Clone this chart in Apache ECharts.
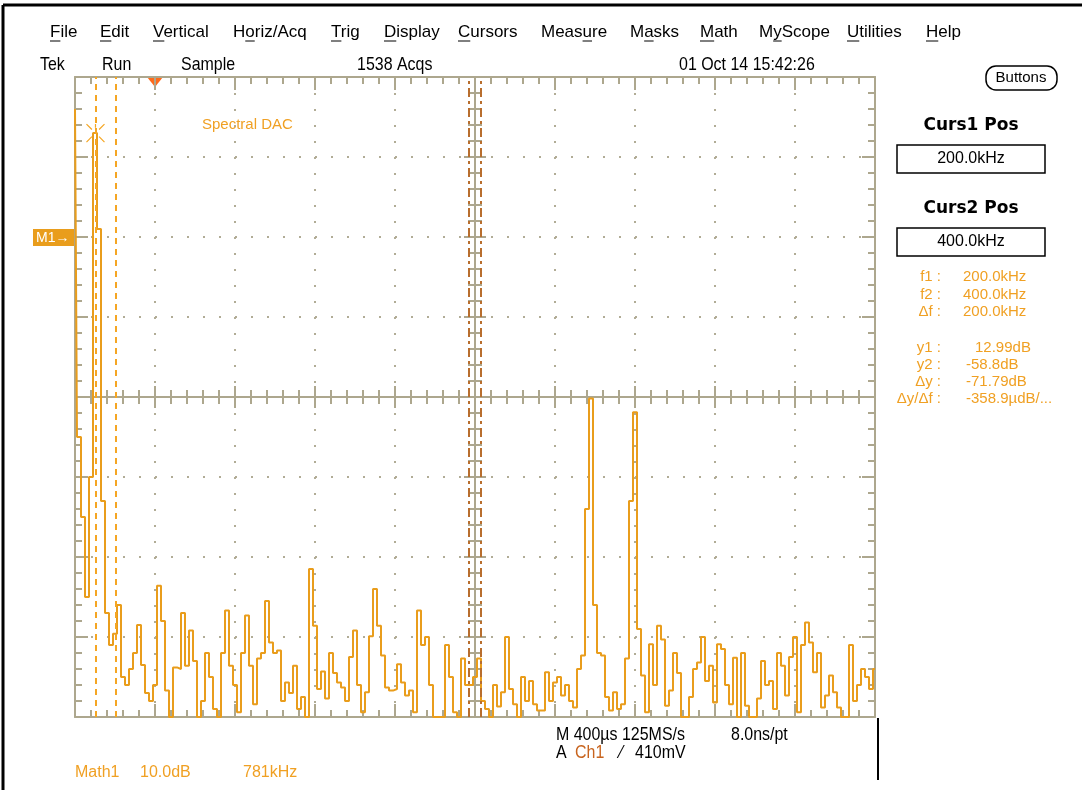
<!DOCTYPE html>
<html>
<head>
<meta charset="utf-8">
<script src="https://cdn.jsdelivr.net/npm/echarts@6/dist/echarts.min.js"></script>
<style>
html, body { margin: 0; padding: 0; background: #fff; }
#chart { width: 1082px; height: 790px; }
</style>
</head>
<body>
<div id="chart"></div>
<script>
// FFT bins, one every 39.05 kHz (781 kHz / 20)
const binKHz = 39.05;
const spectrumDb = [
    16, -25, -35, -45, -30, 13, 1, -33, -47, -51,
    -49.6, -46, -55, -56, -54, -52, -48.5, -53.5, -57, -58,
    -56, -43.6, -48, -56.7, -60, -53.8, -54, -47, -53.6, -49.2,
    -53, -60, -58, -52, -55, -59, -60, -52, -46.7, -53.6,
    -56, -59.4, -52, -47.3, -53.6, -58.4, -52.7, -52, -45.5, -50.7,
    -52, -51.7, -58, -55.7, -57, -53.6, -59, -57.5, -60, -41.5,
    -48.6, -56.5, -54.3, -57.7, -52, -54.5, -55.7, -56.3, -58, -52.5,
    -49.2, -56, -59.4, -56.9, -49.9, -44, -48.6, -52.3, -56.3, -56.7,
    -56.5, -53.4, -55.7, -57.3, -56.7, -59.4, -46.7, -51, -50, -56,
    -60, -60, -60, -51, -55, -59.4, -60, -52.7, -56, -56,
    -55, -52.7, -58, -59, -60, -56, -58.7, -56.9, -50, -56.5,
    -58.4, -60, -55, -58, -55.5, -58.4, -59.2, -59.2, -54.4, -58,
    -55.7, -55, -57.3, -56, -58, -58.8, -54, -52.3, -34, -20.2,
    -46, -52, -52.3, -57.5, -59.2, -56.9, -59, -58.4, -52.7, -33,
    -21.9, -49, -54.8, -59.4, -50.9, -56, -48.6, -50.3, -58.6, -56.7,
    -52, -54.5, -60, -60, -57.5, -54, -53.2, -50, -55.5, -53.6,
    -58.2, -50.9, -51.5, -56, -58.4, -52.6, -60, -52, -58.6, -60,
    -60, -57.7, -53, -56, -55.5, -59, -52, -53.6, -57.3, -52.5,
    -50, -59.4, -51, -48.2, -50.7, -54.4, -52, -58.8, -57.3, -54.8,
    -56.9, -58.8, -60, -60, -51, -58, -56, -54, -55, -56.5,
    -54
];
const cursorKHz = [200, 400];
const cursorDb = [12.99, -58.8];
const freqRange = [0, 7810];
const freqDiv = 781;
const dbRange = [-60, 20];
const dbDiv = 10;
const refLevelDb = 0;
const horizPosKHz = 781;
const centreMarkKHz = [3846, 3964];

const menuItems = ['File', 'Edit', 'Vertical', 'Horiz/Acq', 'Trig', 'Display', 'Cursors', 'Measure', 'Masks', 'Math', 'MyScope', 'Utilities', 'Help'];
const menuX = [50, 100, 153, 233, 331, 384, 458, 541, 630, 700, 759, 847, 926];
const menuKey = [0, 0, 0, 1, 0, 0, 0, 4, 1, 0, 1, 0, 0];
const statusItems = ['Tek', 'Run', 'Sample', '1538 Acqs', '01 Oct 14 15:42:26'];
const statusX = [40, 102, 181, 357, 679];
const readLabels = ['f1 :', 'f2 :', 'Δf :', 'y1 :', 'y2 :', 'Δy :', 'Δy/Δf :'];
const readValues = ['200.0kHz', '400.0kHz', '200.0kHz', '12.99dB', '-58.8dB', '-71.79dB', '-358.9µdB/...'];
const readValueX = [963, 963, 963, 975, 966, 966, 966];
const readY = [277, 295, 312, 348, 365, 382, 399];

const grat = '#ADA78E';
const trace = '#E99D1C';
const orange = '#F0A023';
const sans = '"Liberation Sans", sans-serif';

let chart = echarts.init(document.querySelector('#chart'));

function axis(dim, extra) {
    let base = {
        type: 'value',
        min: dim === 'x' ? freqRange[0] : dbRange[0],
        max: dim === 'x' ? freqRange[1] : dbRange[1],
        interval: dim === 'x' ? freqDiv : dbDiv,
        axisLabel: { show: false },
        splitLine: { show: false },
        axisLine: { show: false, onZero: false },
        axisTick: { show: false },
        minorTick: { show: false }
    };
    return Object.assign(base, extra);
}

function ticks(inside, len) {
    return {
        axisTick: { show: true, inside: inside, length: len, lineStyle: { color: grat, width: 2 } },
        minorTick: { show: true, splitNumber: 5, length: 7, lineStyle: { color: grat, width: 2 } }
    };
}

const solid = { show: true, onZero: false, lineStyle: { color: grat, width: 2 } };
const dotted = { show: true, lineStyle: { color: '#B1AC96', width: 2, type: [2, 14] } };

let option = {
    animation: false,
    grid: { left: 75, top: 77, width: 800, height: 640, show: false },
    xAxis: [
        axis('x', Object.assign({ position: 'bottom', axisLine: solid, splitLine: dotted }, ticks(true, 13))),
        axis('x', Object.assign({ position: 'top', axisLine: solid }, ticks(true, 13))),
        axis('x', Object.assign({ position: 'bottom', offset: -320, axisLine: solid }, ticks(true, 11))),
        axis('x', Object.assign({ position: 'bottom', offset: -320 }, ticks(false, 11)))
    ],
    yAxis: [
        axis('y', Object.assign({ position: 'left', axisLine: solid, splitLine: dotted }, ticks(true, 13))),
        axis('y', Object.assign({ position: 'right', axisLine: solid }, ticks(true, 13))),
        axis('y', Object.assign({ position: 'left', offset: -400, axisLine: solid }, ticks(true, 11))),
        axis('y', Object.assign({ position: 'left', offset: -400 }, ticks(false, 11)))
    ],
    series: [
        {
            name: 'Math1',
            type: 'line',
            xAxisIndex: 0,
            yAxisIndex: 0,
            step: 'middle',
            showSymbol: false,
            data: spectrumDb.map((v, i) => [i * binKHz, v]),
            lineStyle: { color: trace, width: 2 },
            markLine: {
                silent: true,
                symbol: 'none',
                label: { show: false },
                data: cursorKHz.map(f => ({ xAxis: f, lineStyle: { color: '#F5A623', width: 2, type: [6, 5] } }))
                    .concat(centreMarkKHz.map(f => ({ xAxis: f, lineStyle: { color: '#B86E2E', width: 2, type: [9, 4, 3, 4] } })))
            },
            markPoint: {
                silent: true,
                symbol: 'path://M0,0L6,6M20,0L14,6M0,20L6,14M20,20L14,14M10,0L10,4',
                symbolSize: 18,
                itemStyle: { color: 'none', borderColor: '#F5A623', borderWidth: 1.2 },
                label: { show: false },
                data: [{ coord: [cursorKHz[0], cursorDb[0]] }]
            }
        }
    ]
};
chart.setOption(option);

// text helper, sx squeezes the text to mimic the scope's narrow font
function txt(x, y, s, font, color, align, sx) {
    return {
        type: 'text', x: x, y: y, scaleX: sx || 1, silent: true,
        style: { text: s, font: font, fill: color || '#000', align: align || 'left', verticalAlign: 'middle',
                 textAlign: align || 'left', textVerticalAlign: 'middle' }
    };
}

let g = [];
// window frame
g.push({ type: 'line', silent: true, shape: { x1: 3, y1: 5, x2: 1082, y2: 5 }, style: { stroke: '#000', lineWidth: 3 } });
g.push({ type: 'line', silent: true, shape: { x1: 3, y1: 5, x2: 3, y2: 790 }, style: { stroke: '#000', lineWidth: 3 } });
g.push({ type: 'line', silent: true, shape: { x1: 878, y1: 718, x2: 878, y2: 780 }, style: { stroke: '#000', lineWidth: 2 } });

// menu bar with key underlines
const menuFont = '17px ' + sans;
let ctx = document.createElement('canvas').getContext('2d');
ctx.font = menuFont;
menuItems.forEach((m, i) => {
    g.push(txt(menuX[i], 32, m, menuFont, '#000'));
    let pre = ctx.measureText(m.slice(0, menuKey[i])).width;
    let w = ctx.measureText(m[menuKey[i]]).width;
    g.push({ type: 'line', silent: true, shape: { x1: menuX[i] + pre, y1: 41, x2: menuX[i] + pre + w, y2: 41 }, style: { stroke: '#000', lineWidth: 1 } });
});

statusItems.forEach((s, i) => g.push(txt(statusX[i], 65, s, '19px ' + sans, '#000', 'left', 0.84)));

// Buttons
g.push({ type: 'rect', silent: true, shape: { x: 986, y: 66, width: 71, height: 24, r: 10 }, style: { fill: '#fff', stroke: '#000', lineWidth: 1.5 } });
g.push(txt(1021, 78, 'Buttons', '15px ' + sans, '#000', 'center'));

// cursor panel
g.push(txt(971, 126, 'Curs1 Pos', 'bold 17px "DejaVu Sans", sans-serif', '#000', 'center'));
g.push({ type: 'rect', silent: true, shape: { x: 897, y: 145, width: 148, height: 28 }, style: { fill: '#fff', stroke: '#000', lineWidth: 1.5 } });
g.push(txt(971, 159, '200.0kHz', '16px ' + sans, '#000', 'center'));
g.push(txt(971, 209, 'Curs2 Pos', 'bold 17px "DejaVu Sans", sans-serif', '#000', 'center'));
g.push({ type: 'rect', silent: true, shape: { x: 897, y: 228, width: 148, height: 28 }, style: { fill: '#fff', stroke: '#000', lineWidth: 1.5 } });
g.push(txt(971, 242, '400.0kHz', '16px ' + sans, '#000', 'center'));

readLabels.forEach((l, i) => {
    g.push(txt(941, readY[i], l, '15px ' + sans, orange, 'right'));
    g.push(txt(readValueX[i], readY[i], readValues[i], '15px ' + sans, orange));
});

g.push(txt(202, 125, 'Spectral DAC', '15px ' + sans, orange));

// bottom readouts
g.push(txt(556, 735, 'M 400µs 125MS/s', '19px ' + sans, '#000', 'left', 0.84));
g.push(txt(731, 735, '8.0ns/pt', '19px ' + sans, '#000', 'left', 0.84));
g.push(txt(556, 753, 'A', '19px ' + sans, '#000', 'left', 0.84));
g.push(txt(575, 753, 'Ch1', '19px ' + sans, '#C8641E', 'left', 0.84));
g.push(txt(620, 753, '⁄', '19px ' + sans, '#000', 'left', 0.84));
g.push(txt(635, 753, '410mV', '19px ' + sans, '#000', 'left', 0.84));
g.push(txt(75, 773, 'Math1', '16px ' + sans, orange));
g.push(txt(140, 773, '10.0dB', '16px ' + sans, orange));
g.push(txt(243, 773, '781kHz', '16px ' + sans, orange));

// reference marker and horizontal position marker
let refY = chart.convertToPixel({ yAxisIndex: 0 }, refLevelDb);
g.push({ type: 'rect', silent: true, shape: { x: 33, y: refY - 8, width: 42, height: 17 }, style: { fill: '#E99D1C' } });
g.push(txt(36, refY + 1, 'M1→', '14px ' + sans, '#fff'));
let hx = chart.convertToPixel({ xAxisIndex: 0 }, horizPosKHz);
g.push({ type: 'polygon', silent: true, shape: { points: [[hx - 8, 77], [hx + 8, 77], [hx, 87]] }, style: { fill: '#FF6A1A' } });

chart.setOption({ graphic: g });

window.onresize = function () {
    chart.resize();
};
</script>
</body>
</html>
